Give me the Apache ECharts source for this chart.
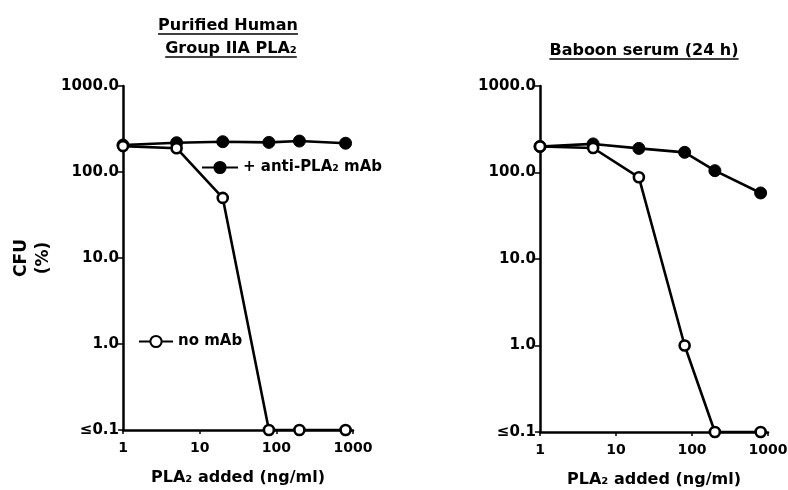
<!DOCTYPE html>
<html>
<head>
<meta charset="utf-8">
<script src="https://cdn.jsdelivr.net/npm/echarts@6/dist/echarts.min.js"></script>
<style>
html,body{margin:0;padding:0;background:#fff;}
#c{width:788px;height:490px;}
</style>
</head>
<body>
<div id="c"></div>
<script>
// ---- data ----
var doses = [1, 5, 20, 80, 200, 800];                 // PLA2 added (ng/ml)
var humanWithMab = [206, 219, 225, 221, 229, 216];     // + anti-PLA2 mAb, purified human group IIA
var humanNoMab = [200, 189, 50, 0.1, 0.1, 0.1];        // no mAb, purified human group IIA
var baboonWithMab = [200, 214, 190, 171, 105, 58];     // + anti-PLA2 mAb, baboon serum
var baboonNoMab = [200, 192, 88, 1.0, 0.1, 0.1];       // no mAb, baboon serum
var xTickLabels = ['1', '10', '100', '1000'];
var yTickLabels = ['≤0.1', '1.0', '10.0', '100.0', '1000.0'];
var seriesNames = ['+ anti-PLA₂ mAb', 'no mAb'];
var panelTitles = [['Purified Human', 'Group IIA PLA₂'], ['Baboon serum (24 h)']];
var xAxisTitle = 'PLA₂ added (ng/ml)';
var yAxisTitle = 'CFU\n(%)';

function pairs(xs, ys) { return xs.map(function (x, i) { return [x, ys[i]]; }); }

var FONT = '"DejaVu Sans", "Liberation Sans", Arial, sans-serif';

function yLabel(v) {
  var e = Math.round(Math.log10(v));
  return yTickLabels[e + 1] || '';
}
function xLabel(v) {
  var e = Math.round(Math.log10(v));
  return xTickLabels[e] || '';
}

function makeX(gridIndex) {
  return {
    type: 'log', logBase: 10, min: 1, max: 1000, gridIndex: gridIndex,
    name: xAxisTitle, nameLocation: 'middle', nameGap: 40,
    nameTextStyle: { fontFamily: FONT, fontWeight: 'bold', fontSize: 16, color: '#000' },
    axisLine: { show: true, lineStyle: { color: '#000', width: 2.5 } },
    axisTick: { show: true, length: 4, lineStyle: { color: '#000', width: 1.5 } },
    minorTick: { show: false },
    splitLine: { show: false },
    axisLabel: { formatter: xLabel, fontFamily: FONT, fontWeight: 'bold', fontSize: 14, color: '#000', margin: 11 }
  };
}
function makeY(gridIndex, withName) {
  var ax = {
    type: 'log', logBase: 10, min: 0.1, max: 1000, gridIndex: gridIndex,
    axisLine: { show: true, lineStyle: { color: '#000', width: 2.5 } },
    axisTick: { show: true, length: 5, lineStyle: { color: '#000', width: 1.5 } },
    minorTick: { show: false },
    splitLine: { show: false },
    axisLabel: { formatter: yLabel, fontFamily: FONT, fontWeight: 'bold', fontSize: 15, color: '#000', margin: 4 }
  };
  if (withName) {
    ax.name = yAxisTitle;
    ax.nameLocation = 'middle';
    ax.nameRotate = 90;
    ax.nameGap = 68;
    ax.nameTextStyle = { fontFamily: FONT, fontWeight: 'bold', fontSize: 17, color: '#000', lineHeight: 22 };
  }
  return ax;
}

function filled(name, xi, data) {
  return {
    name: name, type: 'line', xAxisIndex: xi, yAxisIndex: xi, data: data,
    symbol: 'circle', symbolSize: 12, z: 2,
    lineStyle: { color: '#000', width: 2.6 },
    itemStyle: { color: '#000', borderColor: '#000', borderWidth: 1 },
    animation: false
  };
}
function open(name, xi, data) {
  return {
    name: name, type: 'line', xAxisIndex: xi, yAxisIndex: xi, data: data,
    symbol: 'circle', symbolSize: 10, z: 3,
    lineStyle: { color: '#000', width: 2.6 },
    itemStyle: { color: '#fff', borderColor: '#000', borderWidth: 2.6 },
    animation: false
  };
}

// measure text for underlines
var cv = document.createElement('canvas').getContext('2d');
cv.font = 'bold 16px ' + FONT;
function underlined(text, cx, cy) {
  var w = cv.measureText(text).width;
  return [
    { type: 'text', x: cx, y: cy, style: { text: text, fill: '#000', font: 'bold 16px ' + FONT, textAlign: 'center', textVerticalAlign: 'middle' } },
    { type: 'line', shape: { x1: cx - w / 2, y1: cy + 8, x2: cx + w / 2, y2: cy + 8 }, style: { stroke: '#000', lineWidth: 1.5 } }
  ];
}

var graphics = [].concat(
  underlined(panelTitles[0][0], 228, 26),
  underlined(panelTitles[0][1], 231, 49),
  underlined(panelTitles[1][0], 644, 51)
);

var chart = echarts.init(document.getElementById('c'), null, { renderer: 'canvas' });
chart.setOption({
  backgroundColor: '#fff',
  animation: false,
  textStyle: { fontFamily: FONT },
  grid: [
    { left: 123, top: 86, width: 230, height: 344, containLabel: false, outerBoundsMode: 'none' },
    { left: 540, top: 86, width: 228, height: 346, containLabel: false, outerBoundsMode: 'none' }
  ],
  xAxis: [makeX(0), makeX(1)],
  yAxis: [makeY(0, true), makeY(1, false)],
  legend: [
    { data: [seriesNames[0]], left: 196, top: 155, itemWidth: 36, itemHeight: 14, itemGap: 5,
      textStyle: { fontFamily: FONT, fontWeight: 'bold', fontSize: 15, color: '#000' }, selectedMode: false },
    { data: [seriesNames[1]], left: 133, top: 329, itemWidth: 34, itemHeight: 14, itemGap: 5,
      textStyle: { fontFamily: FONT, fontWeight: 'bold', fontSize: 15, color: '#000' }, selectedMode: false }
  ],
  series: [
    filled(seriesNames[0], 0, pairs(doses, humanWithMab)),
    open(seriesNames[1], 0, pairs(doses, humanNoMab)),
    filled(seriesNames[0], 1, pairs(doses, baboonWithMab)),
    open(seriesNames[1], 1, pairs(doses, baboonNoMab))
  ],
  graphic: graphics
});
</script>
</body>
</html>
